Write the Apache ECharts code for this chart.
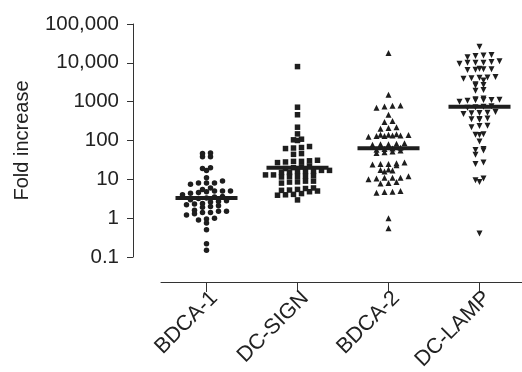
<!DOCTYPE html>
<html><head><meta charset="utf-8">
<script src="https://cdn.jsdelivr.net/npm/echarts@6/dist/echarts.min.js"></script>
<style>html,body{margin:0;padding:0;background:#fff}#c{width:522px;height:372px}</style>
</head><body><div id="c"></div>
<script>
const categories = ['BDCA-1', 'DC-SIGN', 'BDCA-2', 'DC-LAMP'];
const yTickLabels = ['0.1', '1', '10', '100', '1000', '10,000', '100,000'];
const bdca1 = [48, 38, 38, 46, 17, 19, 20, 11, 8, 8, 7.5, 9, 8, 6, 5, 5, 5.5, 4.6, 5, 4.8, 4.4, 3.5, 3.2, 3.0, 3.3, 3.6, 2.6, 2.4, 2.2, 2.0, 2.1, 2.3, 1.9, 1.6, 1.5, 1.4, 1.3, 1.4, 1.5, 1.2, 1.0, 0.95, 0.9, 0.75, 0.5, 0.22, 0.15, 2.8, 2.7, 4.0];
const dcsign = [8000, 720, 460, 220, 148, 104, 100, 108, 66, 62, 70, 64, 44, 46, 29, 30, 28, 31, 27, 29, 22, 21, 20, 19, 16, 17, 15, 16, 17, 15, 16, 12, 13, 12, 12.5, 11.5, 13, 12, 8.6, 9, 8, 8.5, 9, 5.3, 5.5, 5, 6, 5.2, 5.8, 4.8, 4.1, 4.3, 4, 3.9, 2.95];
const bdca2 = [17800, 1500, 800, 780, 750, 700, 460, 320, 300, 210, 200, 220, 140, 135, 138, 140, 130, 145, 135, 130, 125, 85, 80, 78, 82, 80, 62, 60, 58, 65, 55, 50, 48, 52, 26, 24, 25, 23, 27, 25, 17, 18, 17.5, 16, 11, 10.5, 11, 12, 11, 10, 8, 8.5, 7.8, 4.8, 4.5, 4.7, 5, 1.0, 0.55];
const dclamp = [26000, 16000, 15000, 15500, 14000, 10000, 10500, 9500, 10000, 11000, 10000, 6800, 7000, 6500, 6800, 6600, 4100, 4000, 4200, 3900, 4300, 3500, 2700, 2600, 2800, 1900, 2000, 1100, 1050, 1150, 1100, 1000, 1080, 1120, 1200, 740, 700, 760, 720, 510, 500, 480, 520, 540, 350, 340, 360, 370, 235, 240, 220, 138, 140, 145, 94, 57, 60, 55, 43, 27, 25, 10.5, 9.5, 8.5, 0.4];
const medians = [3.3, 20, 63, 740];

const groups = [bdca1, dcsign, bdca2, dclamp];
const symbols = ['circle', 'rect', 'triangle', 'path://M0,0L10,0L5,9Z'];
const sizes = [5.5, 5.5, 6, 6];

function swarm(vals, binDec, gap) {
  const idx = vals.map((v, i) => i).sort((a, b) => vals[a] - vals[b]);
  const bins = {};
  idx.forEach(i => {
    const b = Math.round(Math.log10(vals[i]) / binDec);
    (bins[b] = bins[b] || []).push(i);
  });
  const off = new Array(vals.length);
  Object.values(bins).forEach(list => {
    list.forEach((i, k) => { off[i] = (k - (list.length - 1) / 2) * gap; });
  });
  return off;
}

const FONT = 'Liberation Sans, Arial, Helvetica, sans-serif';
const ink = '#1e1e1e';
const series = groups.map((vals, g) => {
  const off = swarm(vals, 0.13, 8);
  return {
    type: 'scatter',
    symbol: symbols[g],
    symbolSize: sizes[g],
    itemStyle: { color: ink, opacity: 1 },
    data: vals.map((v, i) => ({ value: [categories[g], v], symbolOffset: [off[i], 0] })),
    z: 2
  };
});
series.push({
  type: 'scatter',
  symbol: 'rect',
  symbolSize: [62, 4],
  itemStyle: { color: ink, opacity: 1 },
  data: medians.map((m, g) => [categories[g], m]),
  z: 3
});

const chart = echarts.init(document.getElementById('c'), null, { renderer: 'canvas' });
chart.setOption({
  animation: false,
  backgroundColor: '#fff',
  grid: { left: 161, top: 24, width: 364, height: 233, outerBoundsMode: 'none', containLabel: false },
  xAxis: {
    type: 'category',
    data: categories,
    offset: 25,
    axisLine: { lineStyle: { color: '#333', width: 1 } },
    axisTick: { show: true, alignWithLabel: true, length: 10, lineStyle: { color: '#333' } },
    axisLabel: { rotate: 45, margin: 5, verticalAlign: 'top', fontSize: 21.5, color: '#222', fontFamily: FONT },
    splitLine: { show: false }
  },
  yAxis: {
    type: 'log',
    logBase: 10,
    min: 0.1,
    max: 100000,
    splitNumber: 6,
    offset: 28,
    name: 'Fold increase',
    nameLocation: 'middle',
    nameGap: 101,
    nameRotate: 90,
    nameTextStyle: { fontSize: 20, color: '#222', fontFamily: FONT },
    axisLine: { show: true, lineStyle: { color: '#333', width: 1 } },
    axisTick: { show: true, length: 6, lineStyle: { color: '#333' } },
    axisLabel: {
      fontSize: 20.5, color: '#222', fontFamily: FONT, margin: 14,
      formatter: v => yTickLabels[Math.round(Math.log10(v)) + 1]
    },
    splitLine: { show: false }
  },
  series: series
});
</script></body></html>
